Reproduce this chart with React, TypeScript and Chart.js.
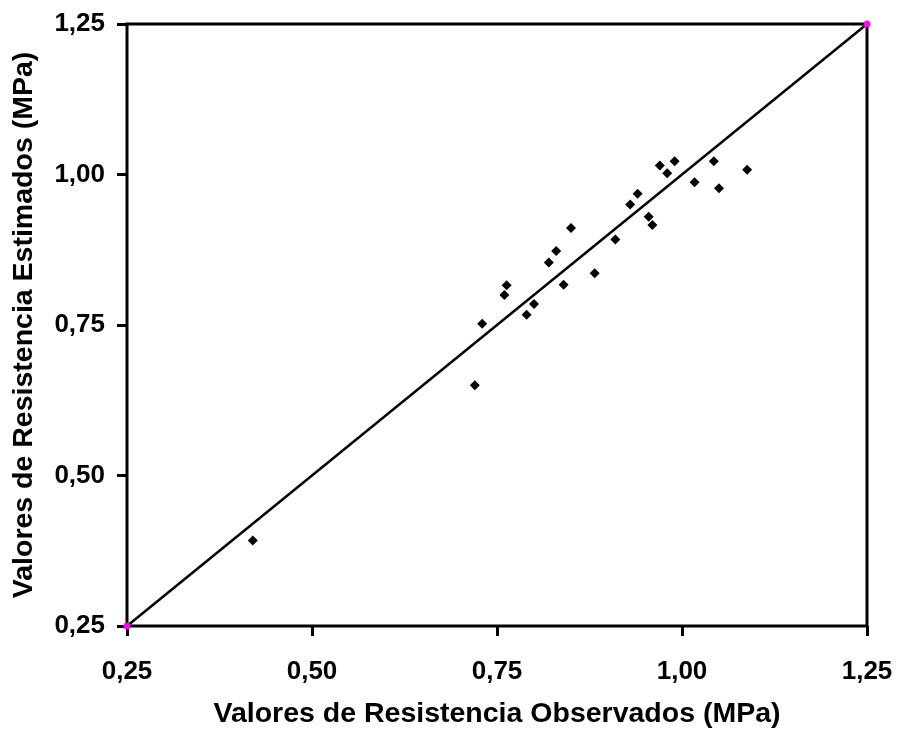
import React, { useEffect, useRef } from "react";
import { Chart, registerables } from "chart.js";

Chart.register(...registerables);

const observed = [0.730, 0.720, 0.760, 0.763, 0.790, 0.800, 0.820, 0.830, 0.840, 0.850, 0.882, 0.910, 0.930, 0.940, 0.955, 0.960, 0.970, 0.980, 0.990, 1.017, 1.043, 1.050, 1.088, 0.420];
const estimated = [0.752, 0.650, 0.800, 0.816, 0.767, 0.785, 0.854, 0.873, 0.817, 0.911, 0.836, 0.892, 0.950, 0.968, 0.930, 0.916, 1.015, 1.002, 1.022, 0.987, 1.022, 0.977, 1.008, 0.392];
const lineX = [0.25, 1.25];
const lineY = [0.25, 1.25];
const tickValues = [0.25, 0.5, 0.75, 1.0, 1.25];
const xTitle = "Valores de Resistencia Observados (MPa)";
const yTitle = "Valores de Resistencia Estimados (MPa)";

const FONT = "'Liberation Sans', Arial, sans-serif";

const fmt = (v: number) => v.toFixed(2).replace(".", ",");

const framePlugin = {
  id: "frame",
  beforeDatasetsDraw(chart: any) {
    const { ctx, chartArea } = chart;
    ctx.save();
    ctx.strokeStyle = "#000";
    ctx.lineWidth = 3;
    ctx.strokeRect(chartArea.left, chartArea.top, chartArea.right - chartArea.left, chartArea.bottom - chartArea.top);
    ctx.restore();
  },
};

export default function App() {
  const ref = useRef<HTMLCanvasElement>(null);
  useEffect(() => {
    if (!ref.current) return;
    const chart = new Chart(ref.current, {
      type: "scatter",
      data: {
        datasets: [
          {
            data: lineX.map((x, i) => ({ x, y: lineY[i] })),
            showLine: true,
            borderColor: "#000",
            borderWidth: 2.5,
            pointRadius: 3.5,
            pointBackgroundColor: "#FF00FF",
            pointBorderColor: "#FF00FF",
            pointBorderWidth: 0,
            clip: false,
          } as any,
          {
            data: observed.map((x, i) => ({ x, y: estimated[i] })),
            pointStyle: "rectRot",
            pointRadius: 5,
            pointBackgroundColor: "#000",
            pointBorderColor: "#000",
            pointBorderWidth: 0,
            showLine: false,
          },
        ],
      },
      options: {
        animation: false,
        responsive: false,
        events: [],
        layout: { padding: { top: 24, right: 30, left: 0, bottom: 0 } },
        plugins: { legend: { display: false }, tooltip: { enabled: false } },
        scales: {
          x: {
            type: "linear",
            min: 0.25,
            max: 1.25,
            afterBuildTicks: (s: any) => { s.ticks = tickValues.map((v) => ({ value: v })); },
            afterFit: (s: any) => { s.height = 103; s.paddingLeft = 0; s.paddingRight = 0; },
            ticks: { callback: (v: any) => fmt(Number(v)), color: "#000", font: { family: FONT, size: 26, weight: "bold" }, padding: 20, maxRotation: 0 },
            grid: { drawOnChartArea: false, drawTicks: true, tickLength: 10, lineWidth: 3, color: "#000" },
            border: { display: false },
            title: { display: true, text: xTitle, color: "#000", font: { family: FONT, size: 28.5, weight: "bold" }, padding: { top: 0, bottom: -2 } },
          },
          y: {
            type: "linear",
            min: 0.25,
            max: 1.25,
            afterBuildTicks: (s: any) => { s.ticks = tickValues.map((v) => ({ value: v })); },
            afterFit: (s: any) => { s.width = 127; s.paddingTop = 0; s.paddingBottom = 0; },
            ticks: { callback: (v: any) => fmt(Number(v)), color: "#000", font: { family: FONT, size: 26, weight: "bold" }, padding: 12 },
            grid: { drawOnChartArea: false, drawTicks: true, tickLength: 10, lineWidth: 3, color: "#000" },
            border: { display: false },
            title: { display: true, text: yTitle, color: "#000", font: { family: FONT, size: 28.5, weight: "bold" }, padding: { top: 7, bottom: 0 } },
          },
        },
      } as any,
      plugins: [framePlugin],
    });
    return () => chart.destroy();
  }, []);
  return (
    <div style={{ position: "absolute", left: 0, top: 0, width: 897, height: 729, background: "#fff" }}>
      <canvas ref={ref} width={897} height={729} style={{ display: "block", width: 897, height: 729 }} />
    </div>
  );
}
